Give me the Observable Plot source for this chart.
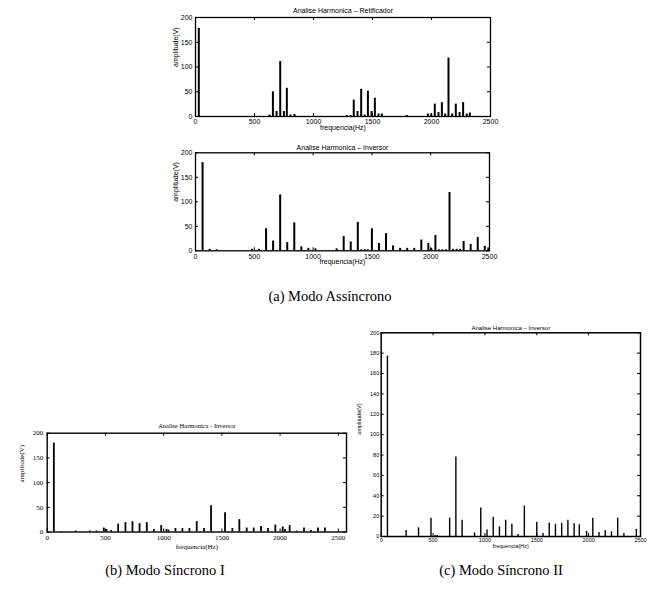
<!DOCTYPE html>
<html><head><meta charset="utf-8">
<script src="https://cdn.jsdelivr.net/npm/d3@7"></script>
<script src="https://cdn.jsdelivr.net/npm/@observablehq/plot@0.6"></script>
<style>
body{margin:0;background:#fff}
#fig{position:relative;width:661px;height:589px;overflow:hidden;background:#fff}
.panel{position:absolute}
.cap{position:absolute;font-family:"Liberation Serif",serif;font-size:14.5px;white-space:nowrap;transform:translate(-50%,-50%);color:#000}
</style></head>
<body><div id="fig"></div>
<script>
// ---- data ----
const xTickValues = [0, 500, 1000, 1500, 2000, 2500];
const yTicks50 = [0, 50, 100, 150, 200];
const yTicks20 = [0, 20, 40, 60, 80, 100, 120, 140, 160, 180, 200];

// (a) Retificador
const retFreq = [28, 627, 656, 687, 718, 749, 774, 805, 839, 1283, 1314, 1341, 1373, 1404, 1433, 1461, 1492, 1520, 1551, 1579, 1791, 1969, 1998, 2028, 2059, 2088, 2116, 2144, 2175, 2206, 2238, 2268, 2299, 2325];
const retAmp  = [178, 3, 50, 10, 111, 10, 57, 3, 4, 2, 2, 33, 10, 55, 3, 51, 10, 37, 5, 5, 2, 5, 5, 25, 8, 28, 5, 118, 5, 25, 8, 28, 5, 7];

// (a) Inversor
const invFreq = [60, 120, 180, 480, 540, 600, 660, 720, 780, 840, 900, 960, 1020, 1200, 1260, 1320, 1380, 1410, 1440, 1465, 1500, 1560, 1620, 1680, 1740, 1800, 1860, 1920, 1980, 2005, 2040, 2070, 2100, 2130, 2160, 2190, 2220, 2250, 2280, 2340, 2400, 2460, 2490];
const invAmp  = [180, 3, 2, 3, 3, 45, 20, 114, 17, 57, 8, 5, 4, 4, 29, 18, 58, 2, 2, 2, 45, 15, 35, 10, 5, 5, 5, 22, 15, 5, 31, 2, 2, 2, 119, 3, 3, 3, 19, 13, 27, 9, 6];

// (b) Sincrono I
const s1Freq = [57, 120, 243, 366, 423, 486, 509, 549, 609, 672, 732, 793, 855, 916, 979, 1024, 1041, 1101, 1161, 1221, 1284, 1347, 1407, 1527, 1590, 1650, 1713, 1773, 1836, 1896, 1959, 2022, 2042, 2082, 2142, 2205, 2265, 2325, 2385];
const s1Amp  = [180, 1, 2, 2, 2, 8, 5, 3, 16, 19, 21, 17, 19, 5, 13, 5, 4, 7, 7, 7, 21, 7, 53, 39, 7, 25, 8, 8, 11, 7, 14, 10, 5, 13, 2, 8, 3, 8, 8];

// (c) Sincrono II
const s2Freq = [60, 240, 360, 480, 520, 540, 660, 720, 780, 900, 960, 1020, 1080, 1140, 1200, 1260, 1320, 1380, 1500, 1560, 1620, 1680, 1740, 1800, 1860, 1910, 1980, 2040, 2100, 2160, 2220, 2280, 2340, 2460];
const s2Amp  = [177, 6, 8.5, 18, 1, 1, 18, 78, 16, 3.5, 28, 6.5, 19, 9.5, 16, 12, 2, 30, 14, 3, 13, 12, 13, 16, 12.5, 11.5, 5, 18, 4, 6, 4.6, 18, 3, 7];

const rows = (fs, vs) => fs.map((f, i) => ({f, v: vs[i]}));

const fig = document.getElementById("fig");

function panel(o) {
  const [mt, mr, mb, ml] = o.margin;
  const iw = o.width - ml - mr, ih = o.height - mt - mb;
  const tl = o.tickLen;
  const chart = Plot.plot({
    width: o.width, height: o.height,
    marginTop: mt, marginRight: mr, marginBottom: mb, marginLeft: ml,
    style: {fontFamily: o.font, fontSize: o.fontSize + "px", background: "transparent", color: "black", overflow: "visible"},
    x: {domain: o.xDomain},
    y: {domain: [0, 200]},
    marks: [
      Plot.ruleX(o.data, {x: "f", y1: 0, y2: "v", stroke: "black", strokeWidth: o.barWidth}),
      Plot.tickX(xTickValues, {x: d => d, insetTop: ih - tl, stroke: "black"}),
      Plot.tickX(xTickValues, {x: d => d, insetBottom: ih - tl, stroke: "black"}),
      Plot.tickY(o.yTicks, {y: d => d, insetRight: iw - tl, stroke: "black"}),
      Plot.tickY(o.yTicks, {y: d => d, insetLeft: iw - tl, stroke: "black"}),
      Plot.axisX({ticks: xTickValues, tickSize: 0, tickPadding: o.xPad, tickFormat: d => String(d), label: null}),
      Plot.axisY({ticks: o.yTicks, tickSize: 0, tickPadding: o.yPad, tickFormat: d => String(d), label: null}),
      Plot.frame({stroke: "black", strokeWidth: o.frameWidth}),
      Plot.text([o.title], {frameAnchor: "top", dy: o.titleDy, text: d => d, fontSize: o.titleSize}),
      Plot.text(["frequencia(Hz)"], {frameAnchor: "bottom", dy: o.xLabelDy, text: d => d}),
      Plot.text(["amplitude(V)"], {frameAnchor: "left", dx: o.yLabelDx, rotate: -90, text: d => d})
    ]
  });
  const div = document.createElement("div");
  div.className = "panel";
  div.style.left = o.left + "px";
  div.style.top = o.top + "px";
  div.style.width = o.width + "px";
  div.appendChild(chart);
  fig.appendChild(div);
}

const sans = "'Liberation Sans', Arial, sans-serif";
const serif = "'Liberation Serif', 'Times New Roman', serif";

panel({data: rows(retFreq, retAmp), left: 150, top: 0, width: 370, height: 140, margin: [17, 30, 24, 45],
  xDomain: [0, 2500], yTicks: yTicks50, font: sans, fontSize: 7, titleSize: 7, title: "Analise Harmonica \u2013 Retificador",
  titleDy: -9, xLabelDy: 13.5, yLabelDx: -20, barWidth: 2, frameWidth: 1.3, tickLen: 3, xPad: 3, yPad: 3});

panel({data: rows(invFreq, invAmp), left: 150, top: 138, width: 370, height: 132, margin: [14.3, 31, 19.7, 45],
  xDomain: [0, 2500], yTicks: yTicks50, font: sans, fontSize: 7, titleSize: 7, title: "Analise Harmonica \u2013 Inversor",
  titleDy: -7.5, xLabelDy: 13.5, yLabelDx: -20, barWidth: 2, frameWidth: 1.3, tickLen: 3, xPad: 3, yPad: 3});

panel({data: rows(s1Freq, s1Amp), left: 0, top: 410, width: 350, height: 145, margin: [22.7, 4, 23.5, 46.7],
  xDomain: [0, 2570], yTicks: yTicks50, font: serif, fontSize: 7, titleSize: 6.5, title: "Analise Harmonica - Inversor",
  titleDy: -10, xLabelDy: 17, yLabelDx: -25, barWidth: 1.8, frameWidth: 1.4, tickLen: 3, xPad: 3, yPad: 4});

panel({data: rows(s2Freq, s2Amp), left: 345, top: 315, width: 316, height: 240, margin: [17.3, 21, 19, 35.7],
  xDomain: [0, 2500], yTicks: yTicks20, font: sans, fontSize: 5.5, titleSize: 6, title: "Analise Harmonica \u2013 Inversor",
  titleDy: -6.6, xLabelDy: 11, yLabelDx: -22, barWidth: 1.4, frameWidth: 1.5, tickLen: 3, xPad: 2, yPad: 2});

function caption(text, x, y) {
  const d = document.createElement("div");
  d.className = "cap";
  d.style.left = x + "px";
  d.style.top = y + "px";
  d.textContent = text;
  fig.appendChild(d);
}
caption("(a) Modo Ass\u00edncrono", 330, 296);
caption("(b) Modo S\u00edncrono I", 165, 570);
caption("(c) Modo S\u00edncrono II", 501, 570);
</script>
</body></html>
